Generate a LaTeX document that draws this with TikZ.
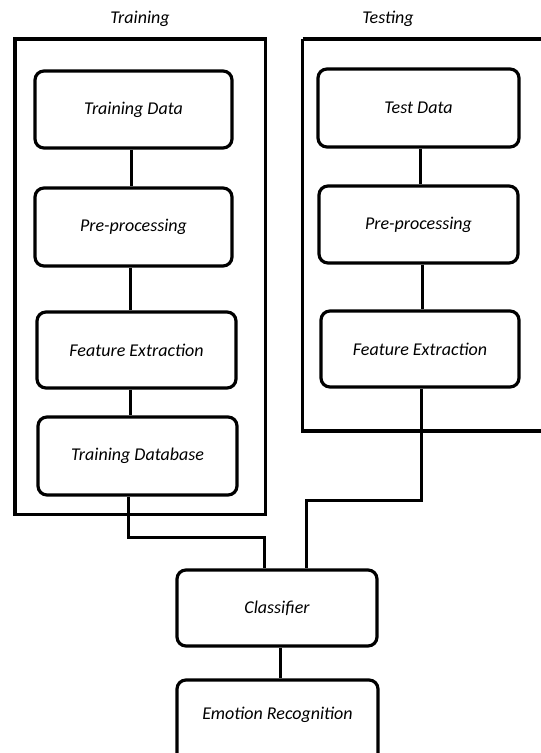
\documentclass[tikz,border=0pt]{standalone}
\usepackage{fontspec}
\setmainfont{Carlito}
\begin{document}
\begin{tikzpicture}[x=1pt,y=-1pt,
  stage/.style={draw, line width=3.2pt, rounded corners=9pt, font=\itshape\fontsize{18}{20}\selectfont, inner sep=0pt},
  frame/.style={draw, line width=3.6pt},
  link/.style={draw, line width=3pt},
  title/.style={font=\itshape\fontsize{18}{20}\selectfont, inner sep=0pt}]
\clip (0,0) rectangle (541,753);
\fill[white] (0,0) rectangle (541,753);
% frames
\draw[frame] (15,39) rectangle (265.5,514.5);
\draw[frame] (302.5,39) -- (560,39) (302.5,39) -- (302.5,431) -- (560,431);
\node[title] (ttrain) at (140,19) {Training};
\node[title] (ttest) at (388,19) {Testing};
% left column
\node[stage, minimum width=197pt, minimum height=77pt] (tdata) at (133.5,109.5) {Training Data};
\node[stage, minimum width=197pt, minimum height=78pt] (pre1) at (133.5,227) {Pre-processing};
\node[stage, minimum width=199pt, minimum height=76pt] (fe1) at (136.5,350) {Feature Extraction};
\node[stage, minimum width=199pt, minimum height=78pt] (tdb) at (137.5,456) {Training Database};
% right column
\node[stage, minimum width=201pt, minimum height=78pt] (test) at (418.5,108) {Test Data};
\node[stage, minimum width=199pt, minimum height=77pt] (pre2) at (418.5,224.5) {Pre-processing};
\node[stage, minimum width=198pt, minimum height=76pt] (fe2) at (420,349) {Feature Extraction};
% bottom
\node[stage, minimum width=200pt, minimum height=76pt] (cls) at (277,608) {Classifier};
\node[stage, minimum width=201pt, minimum height=90pt, text height=12pt, text depth=24pt] (emo) at (277.5,725) {Emotion Recognition};
% links
\draw[link] (tdata.south -| 131,0) -- (pre1.north -| 131,0);
\draw[link] (pre1.south -| 130,0) -- (fe1.north -| 130,0);
\draw[link] (fe1.south -| 130,0) -- (tdb.north -| 130,0);
\draw[link] (test.south -| 420,0) -- (pre2.north -| 420,0);
\draw[link] (pre2.south -| 422,0) -- (fe2.north -| 422,0);
\coordinate (l1) at (128,537);
\coordinate (l2) at (264,537);
\coordinate (r1) at (421,500);
\coordinate (r2) at (306,500);
\draw[link] (tdb.south -| l1) -- (l1) -- (l2) -- (cls.north -| l2);
\draw[link] (fe2.south -| r1) -- (r1) -- (r2) -- (cls.north -| r2);
\draw[link] (cls.south -| 280,0) -- (emo.north -| 280,0);
\end{tikzpicture}
\end{document}
